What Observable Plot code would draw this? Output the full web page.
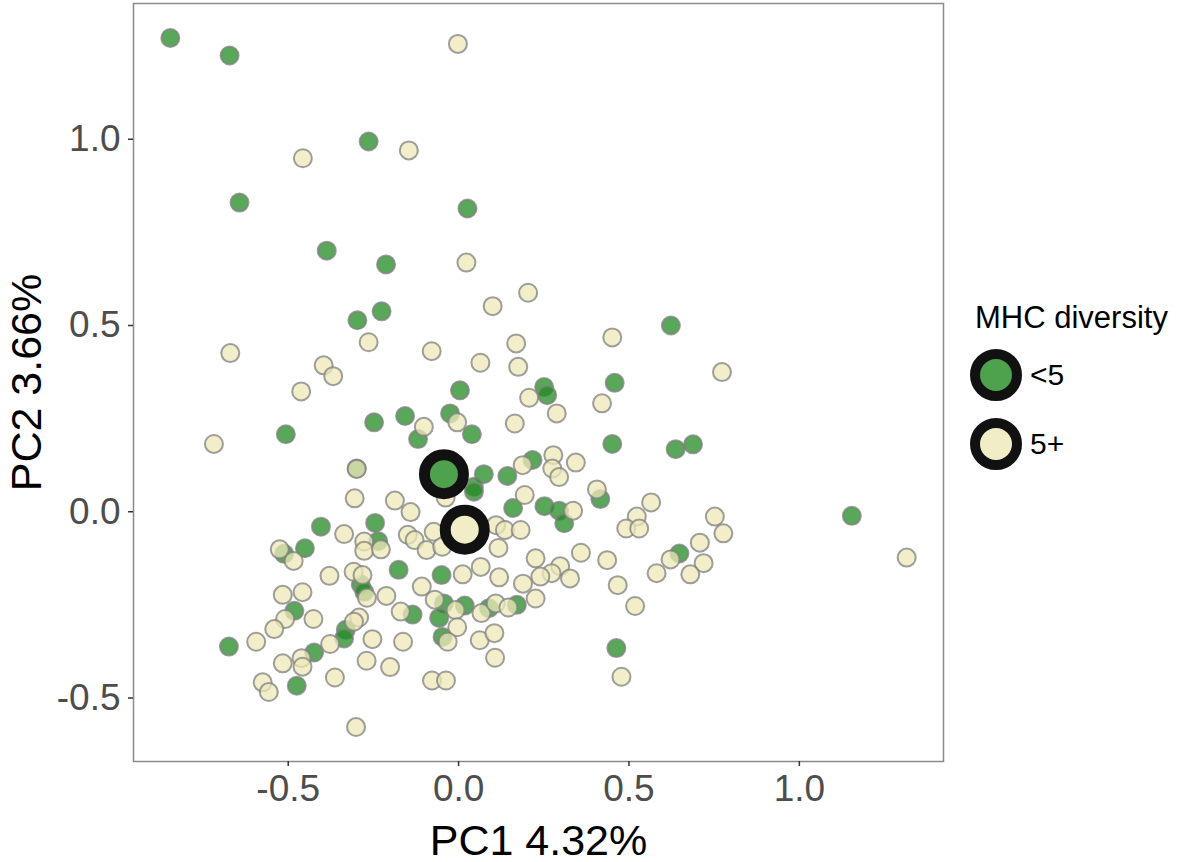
<!DOCTYPE html>
<html>
<head>
<meta charset="utf-8">
<script src="https://cdn.jsdelivr.net/npm/d3@7"></script>
<script src="https://cdn.jsdelivr.net/npm/@observablehq/plot@0.6"></script>
<style>
  html, body { margin: 0; padding: 0; background: #fff; }
  #wrap { position: relative; width: 1180px; height: 862px; font-family: "Liberation Sans", Arial, Helvetica, sans-serif; }
  #legend { position: absolute; left: 966px; top: 296px; }
  #legend .title { font-size: 31px; color: #000; line-height: 44px; margin-left: 9px; }
  #legend .item { display: flex; align-items: center; height: 69px; }
  #legend .item span { font-size: 30px; color: #000; margin-left: 4px; }
</style>
</head>
<body>
<div id="wrap"></div>
<script>
// ---- data ----
const groups = ["<5", "5+"];
const groupColors = ["#228B22", "#EEE8B8"];

const lowX = [-0.846,-0.672,-0.264,-0.643,0.026,-0.387,-0.213,-0.226,-0.297,0.623,
  0.004,0.251,0.260,0.458,-0.248,-0.157,-0.025,0.039,-0.119,-0.507,
  0.451,0.637,0.688,-0.299,0.074,0.143,0.217,0.045,0.045,0.160,
  0.252,0.295,0.310,0.416,0.648,1.154,-0.050,-0.176,-0.043,0.018,
  0.089,0.171,-0.057,-0.047,0.463,-0.135,-0.404,-0.245,-0.236,-0.512,
  -0.451,-0.287,-0.277,-0.482,-0.331,-0.336,-0.424,-0.674,-0.475];
const lowY = [1.272,1.225,0.994,0.830,0.814,0.701,0.664,0.538,0.514,0.500,
  0.326,0.335,0.313,0.346,0.240,0.257,0.264,0.208,0.195,0.208,
  0.182,0.168,0.181,0.116,0.101,0.096,0.139,0.067,0.054,0.010,
  0.015,0.003,-0.031,0.034,-0.112,-0.011,-0.170,-0.156,-0.246,-0.252,
  -0.259,-0.250,-0.285,-0.336,-0.366,-0.276,-0.040,-0.030,-0.079,-0.113,
  -0.098,-0.195,-0.215,-0.266,-0.317,-0.340,-0.378,-0.362,-0.467];

const highX = [-0.002,-0.146,-0.457,0.023,0.204,0.100,-0.264,-0.670,-0.079,0.169,
  0.451,0.064,0.175,-0.396,-0.368,-0.462,0.773,0.207,0.421,0.288,
  -0.102,-0.004,0.165,-0.718,-0.299,0.188,0.278,0.275,0.295,0.344,
  0.406,0.565,-0.038,0.194,-0.305,-0.187,-0.141,0.336,0.523,0.492,
  0.530,0.752,0.777,1.315,-0.073,-0.149,-0.129,-0.094,-0.048,0.110,
  0.136,0.182,0.117,0.226,0.359,0.436,0.708,0.622,0.719,0.581,
  0.680,0.467,0.518,0.298,0.273,0.240,0.327,0.189,0.119,0.065,
  0.012,-0.108,-0.070,-0.009,0.067,0.109,0.146,0.226,-0.004,-0.032,
  0.062,0.105,0.107,-0.163,-0.170,-0.078,-0.037,0.478,-0.336,-0.277,
  -0.277,-0.228,-0.525,-0.484,-0.379,-0.308,-0.282,-0.269,-0.212,-0.516,
  -0.458,-0.509,-0.541,-0.426,-0.292,-0.307,-0.377,-0.461,-0.458,-0.516,
  -0.594,-0.253,-0.270,-0.201,-0.363,-0.575,-0.557,-0.301];
const highY = [1.256,0.970,0.949,0.669,0.588,0.552,0.455,0.426,0.431,0.452,
  0.468,0.400,0.389,0.393,0.364,0.323,0.375,0.306,0.291,0.264,
  0.228,0.240,0.237,0.182,0.115,0.125,0.152,0.116,0.093,0.132,
  0.060,0.025,0.038,0.045,0.036,0.030,-0.001,0.003,-0.013,-0.045,
  -0.045,-0.013,-0.058,-0.123,-0.054,-0.062,-0.076,-0.103,-0.094,-0.036,
  -0.049,-0.049,-0.097,-0.125,-0.110,-0.130,-0.083,-0.128,-0.138,-0.165,
  -0.168,-0.197,-0.253,-0.146,-0.165,-0.174,-0.179,-0.193,-0.176,-0.148,
  -0.168,-0.201,-0.236,-0.264,-0.272,-0.246,-0.257,-0.233,-0.310,-0.349,
  -0.345,-0.326,-0.392,-0.349,-0.268,-0.453,-0.453,-0.443,-0.060,-0.080,
  -0.105,-0.101,-0.101,-0.132,-0.172,-0.161,-0.170,-0.231,-0.226,-0.223,
  -0.216,-0.288,-0.315,-0.288,-0.284,-0.295,-0.355,-0.393,-0.416,-0.407,
  -0.349,-0.342,-0.400,-0.417,-0.445,-0.458,-0.484,-0.578];

// group means (as drawn)
const meanX = [-0.043, 0.018];
const meanY = [0.101, -0.048];

const xTicks = [-0.5, 0.0, 0.5, 1.0];
const yTicks = [-0.5, 0.0, 0.5, 1.0];
const xTitle = "PC1 4.32%";
const yTitle = "PC2 3.66%";
const legendTitle = "MHC diversity";

// ---- build table ----
const points = [
  ...lowX.map((x, i) => ({x, y: lowY[i], g: groups[0]})),
  ...highX.map((x, i) => ({x, y: highY[i], g: groups[1]}))
];
const means = groups.map((g, i) => ({x: meanX[i], y: meanY[i], g}));

function padded(vals) {
  const [a, b] = d3.extent(vals);
  const p = (b - a) * 0.05;
  return [a - p, b + p];
}
const xDomain = padded(points.map(d => d.x));
const yDomain = padded(points.map(d => d.y));

const font = '"Liberation Sans", Arial, Helvetica, sans-serif';

const chart = Plot.plot({
  width: 1180,
  height: 862,
  marginLeft: 133,
  marginRight: 237,
  marginTop: 3,
  marginBottom: 101,
  style: {fontFamily: font, background: "#fff", overflow: "visible"},
  x: {domain: xDomain, ticks: xTicks},
  y: {domain: yDomain, ticks: yTicks},
  color: {domain: groups, range: groupColors},
  marks: [
    Plot.frame({stroke: "#8a8a8a", strokeWidth: 1.5}),
    Plot.axisX({ticks: xTicks, tickFormat: d => d.toFixed(1), tickSize: 5, tickPadding: 8,
      fontSize: 37, color: "#4d4d4d", stroke: "#333", strokeWidth: 1.5, label: null}),
    Plot.axisY({ticks: yTicks, tickFormat: d => d.toFixed(1), tickSize: 5, tickPadding: 8,
      fontSize: 37, color: "#4d4d4d", stroke: "#333", strokeWidth: 1.5, label: null}),
    Plot.dot(points, {x: "x", y: "y", r: 9, fill: "g", fillOpacity: 0.75,
      stroke: "#7f7f7f", strokeOpacity: 0.75, strokeWidth: 2}),
    Plot.dot(means, {x: "x", y: "y", r: 19.5, fill: "g", fillOpacity: 0.8,
      stroke: "#111", strokeWidth: 11}),
    Plot.text([xTitle], {frameAnchor: "bottom", dy: 80, fontSize: 43, fill: "#000",
      lineAnchor: "middle", textAnchor: "middle"}),
    Plot.text([yTitle], {frameAnchor: "left", dx: -106, rotate: -90, fontSize: 43, fill: "#000",
      lineAnchor: "middle", textAnchor: "middle"})
  ]
});

const wrap = document.getElementById("wrap");
wrap.appendChild(chart);

// ---- legend ----
const legend = document.createElement("div");
legend.id = "legend";
const t = document.createElement("div");
t.className = "title";
t.textContent = legendTitle;
legend.appendChild(t);
groups.forEach((g, i) => {
  const item = document.createElement("div");
  item.className = "item";
  const svg = d3.create("svg").attr("width", 60).attr("height", 60);
  svg.append("circle").attr("cx", 30).attr("cy", 30).attr("r", 21)
    .attr("fill", groupColors[i]).attr("fill-opacity", 0.8)
    .attr("stroke", "#111").attr("stroke-width", 10);
  item.appendChild(svg.node());
  const s = document.createElement("span");
  s.textContent = g;
  item.appendChild(s);
  legend.appendChild(item);
});
wrap.appendChild(legend);
</script>
</body>
</html>
